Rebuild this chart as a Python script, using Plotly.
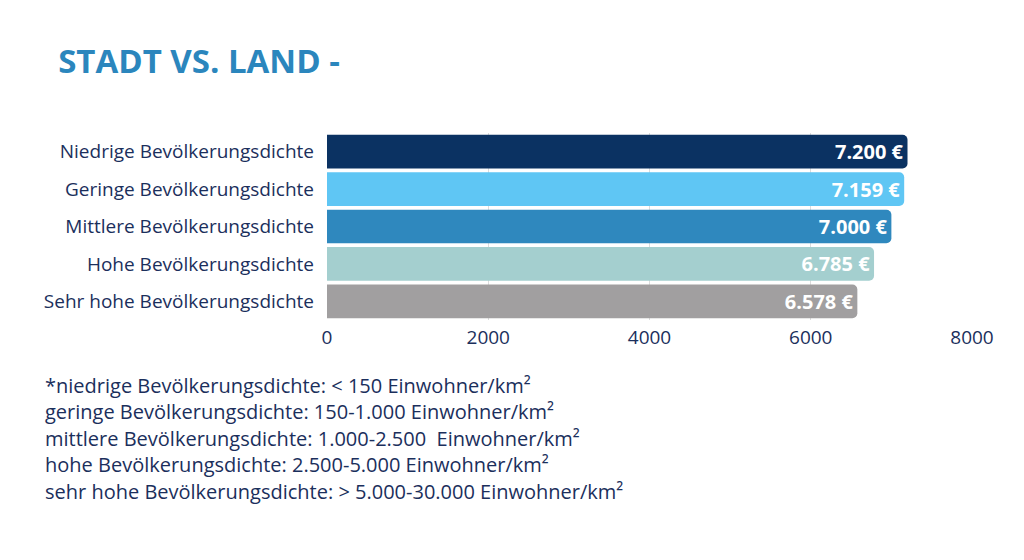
import plotly.graph_objects as go

categories = ["Niedrige Bevölkerungsdichte", "Geringe Bevölkerungsdichte", "Mittlere Bevölkerungsdichte",
              "Hohe Bevölkerungsdichte", "Sehr hohe Bevölkerungsdichte"]
values = [7200, 7159, 7000, 6785, 6578]
labels = ["7.200 €", "7.159 €", "7.000 €", "6.785 €", "6.578 €"]
colors = ["#0b3262", "#5fc6f4", "#2f88be", "#a4cfcf", "#a19fa0"]
notes = [
    "*niedrige Bevölkerungsdichte: < 150 Einwohner/km²",
    "geringe Bevölkerungsdichte: 150-1.000 Einwohner/km²",
    "mittlere Bevölkerungsdichte: 1.000-2.500  Einwohner/km²",
    "hohe Bevölkerungsdichte: 2.500-5.000 Einwohner/km²",
    "sehr hohe Bevölkerungsdichte: > 5.000-30.000 Einwohner/km²",
]

font = "Open Sans"
navy = "#1b2f5c"

fig = go.Figure(go.Bar(
    x=values, y=categories, orientation="h",
    marker=dict(color=colors, line=dict(width=0)),
    text=labels, textposition="inside", insidetextanchor="end",
    textfont=dict(color="white", size=20, family=font, weight="bold"),
    width=0.9,
))

fig.update_layout(
    width=1024, height=560, plot_bgcolor="white", paper_bgcolor="white",
    margin=dict(l=319, r=60, t=125, b=248, autoexpand=False),
    barcornerradius=5, showlegend=False,
    font=dict(family=font, color=navy, size=19),
    title=dict(text="<b>STADT VS. LAND -</b>", x=0.049, xanchor="left", y=0.905, yanchor="middle",
               font=dict(size=33, color="#2b86bd", family=font)),
)
fig.update_xaxes(range=[0, 8000], tickvals=[0, 2000, 4000, 6000, 8000], showgrid=True,
                 gridcolor="#dcdcdc", zeroline=False, showline=False,
                 tickfont=dict(size=19, color=navy), ticks="", ticklabelstandoff=4)
fig.update_yaxes(autorange="reversed", showgrid=False, ticks="", ticklabelstandoff=12,
                 tickfont=dict(size=19, color=navy))

for i, t in enumerate(notes):
    fig.add_annotation(text=t, xref="paper", yref="paper", x=-0.44, xanchor="left",
                       y=-0.348 - i * 0.142, yanchor="middle", showarrow=False,
                       font=dict(size=20, color=navy, family=font))

fig.write_html("out.html")
